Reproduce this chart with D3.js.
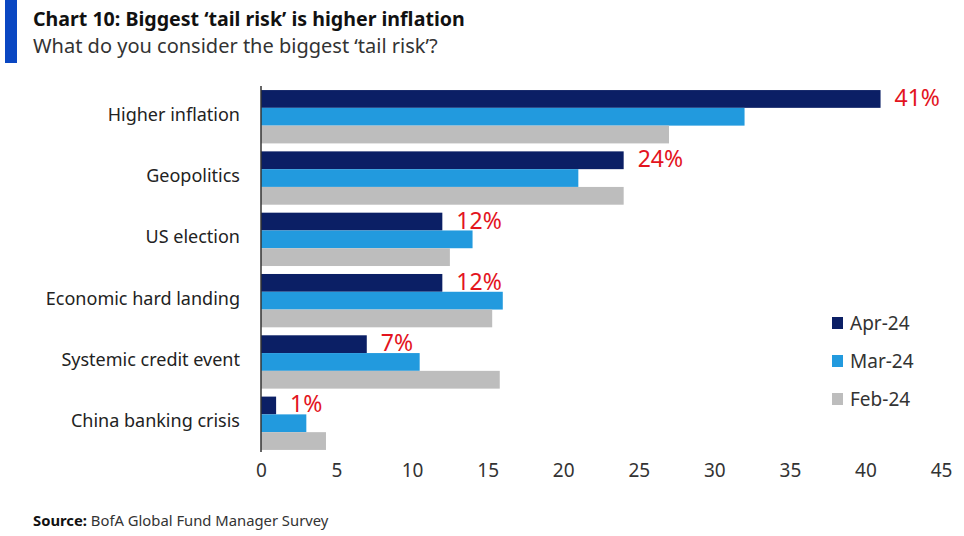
<!DOCTYPE html>
<html>
<head>
<meta charset="utf-8">
<script src="https://cdn.jsdelivr.net/npm/d3@7"></script>
<style>
  body { margin: 0; background: #fff; }
  svg text { font-family: "Noto Sans", sans-serif; }
</style>
</head>
<body>
<svg id="chart" width="964" height="536"></svg>
<script>
const WIDTH = 964;
const HEIGHT = 536;

const CATEGORIES = [
  "Higher inflation",
  "Geopolitics",
  "US election",
  "Economic hard landing",
  "Systemic credit event",
  "China banking crisis"
];
const SERIES = ["Apr-24", "Mar-24", "Feb-24"];
const APR_24 = [41, 24, 12, 12, 7, 1];
const MAR_24 = [32, 21, 14, 16, 10.5, 3];
const FEB_24 = [27, 24, 12.5, 15.3, 15.8, 4.3];
const X_TICKS = [0, 5, 10, 15, 20, 25, 30, 35, 40, 45];

const COLORS = { "Apr-24": "#0b1f65", "Mar-24": "#229ade", "Feb-24": "#bdbdbd" };
const VALUES = { "Apr-24": APR_24, "Mar-24": MAR_24, "Feb-24": FEB_24 };

const svg = d3.select("#chart");

// header
svg.append("rect").attr("x", 5).attr("y", 0).attr("width", 12).attr("height", 63).attr("fill", "#0a47c2");
svg.append("text")
  .attr("x", 33).attr("y", 26)
  .attr("font-size", 19.6).attr("font-weight", "bold").attr("fill", "#111")
  .text("Chart 10: Biggest \u2018tail risk\u2019 is higher inflation");
svg.append("text")
  .attr("x", 33).attr("y", 53)
  .attr("font-size", 20).attr("fill", "#333")
  .text("What do you consider the biggest \u2018tail risk\u2019?");

const x = d3.scaleLinear().domain([0, 45]).range([261, 941]);
const y = d3.scaleBand().domain(CATEGORIES).range([87, 453]).paddingInner(0.13).paddingOuter(0.05);
const ySub = d3.scaleBand().domain(SERIES).range([0, y.bandwidth()]);

const groups = svg.append("g").selectAll("g.group")
  .data(CATEGORIES)
  .join("g")
  .attr("class", "group")
  .attr("transform", (d) => `translate(0,${y(d)})`);

groups.selectAll("rect")
  .data((d, i) => SERIES.map((s) => ({ series: s, value: VALUES[s][i] })))
  .join("rect")
  .attr("x", x(0))
  .attr("y", (d) => ySub(d.series))
  .attr("width", (d) => x(d.value) - x(0))
  .attr("height", ySub.bandwidth())
  .attr("fill", (d) => COLORS[d.series]);

// red labels for latest month
groups.append("text")
  .attr("x", (d, i) => x(APR_24[i]) + 14)
  .attr("y", ySub("Apr-24") + ySub.bandwidth() / 2 + 7)
  .attr("font-size", 23)
  .attr("fill", "#e3141e")
  .text((d, i) => `${APR_24[i]}%`);

// category labels
groups.append("text")
  .attr("x", 240)
  .attr("y", y.bandwidth() / 2 + 4)
  .attr("text-anchor", "end")
  .attr("font-size", 18)
  .attr("fill", "#222")
  .text((d) => d);

// y axis line
svg.append("line")
  .attr("x1", x(0)).attr("x2", x(0))
  .attr("y1", 86).attr("y2", 452)
  .attr("stroke", "#333").attr("stroke-width", 1.5);

// x axis tick labels (no axis line)
const xAxis = svg.append("g")
  .attr("transform", "translate(0,463)")
  .call(d3.axisBottom(x).tickValues(X_TICKS).tickSize(0).tickPadding(0));
xAxis.select(".domain").remove();
xAxis.selectAll("text")
  .attr("dy", "0.71em")
  .attr("font-size", 19)
  .attr("font-family", "\"Noto Sans\", sans-serif")
  .attr("fill", "#333");

// legend
const legend = svg.append("g").selectAll("g")
  .data(SERIES)
  .join("g")
  .attr("transform", (d, i) => `translate(832,${317 + i * 38})`);
legend.append("rect").attr("width", 11).attr("height", 12).attr("fill", (d) => COLORS[d]);
legend.append("text")
  .attr("x", 18).attr("y", 13)
  .attr("font-size", 19).attr("fill", "#333")
  .text((d) => d);

// source
const src = svg.append("text").attr("x", 33).attr("y", 526).attr("font-size", 14.8).attr("fill", "#333");
src.append("tspan").attr("font-weight", "bold").attr("fill", "#111").text("Source:");
src.append("tspan").text(" BofA Global Fund Manager Survey");
</script>
</body>
</html>
